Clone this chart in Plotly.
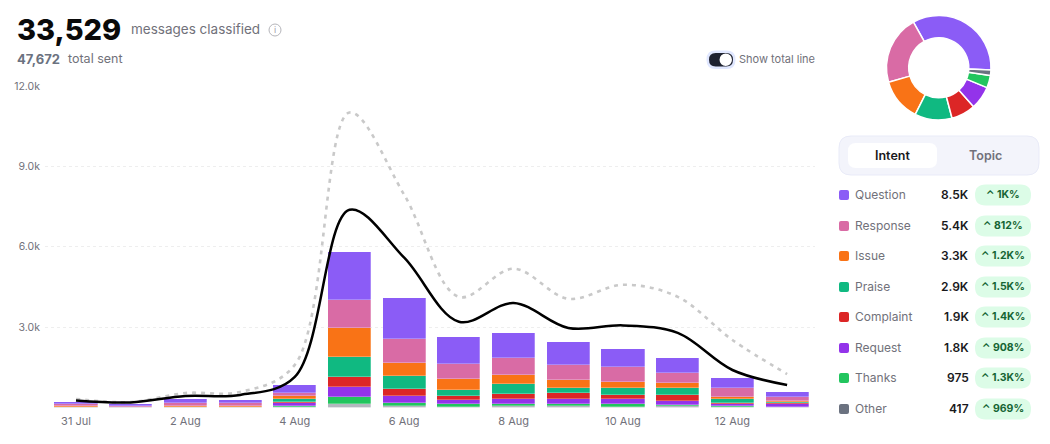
import plotly.graph_objects as go

W, H = 1050, 444

days = ["2023-07-31", "2023-08-01", "2023-08-02", "2023-08-03", "2023-08-04", "2023-08-05", "2023-08-06",
        "2023-08-07", "2023-08-08", "2023-08-09", "2023-08-10", "2023-08-11", "2023-08-12", "2023-08-13"]

question = [75, 50, 150, 135, 288, 1790, 1550, 1000, 920, 850, 673, 560, 374, 187]
response = [80, 50, 105, 110, 125, 1050, 880, 570, 625, 560, 550, 374, 348, 138]
issue = [15, 7, 25, 25, 125, 1080, 500, 400, 335, 285, 213, 187, 75, 50]
praise = [10, 5, 12, 12, 100, 750, 470, 235, 375, 185, 285, 273, 127, 37]
complaint = [5, 3, 6, 6, 50, 390, 275, 150, 210, 235, 150, 224, 37, 52]
request = [5, 3, 5, 5, 100, 370, 245, 140, 175, 187, 175, 127, 86, 86]
thanks = [3, 1, 3, 3, 30, 250, 135, 110, 85, 85, 100, 60, 26, 15]
other = [2, 1, 1, 1, 25, 130, 50, 30, 45, 45, 30, 45, 30, 15]

classified_line = [260, 190, 430, 470, 1140, 7380, 5590, 3200, 3900, 2970, 3065, 2785, 1400, 840]
total_line = [320, 205, 540, 580, 1590, 11010, 7940, 4130, 5180, 4060, 4580, 4130, 2520, 1250]

names = ["Question", "Response", "Issue", "Praise", "Complaint", "Request", "Thanks", "Other"]
colors = ["#8b5cf6", "#d96ba5", "#f97316", "#10b981", "#dc2626", "#9333ea", "#22c55e", "#6b7280"]
series = [question, response, issue, praise, complaint, request, thanks, other]

totals = [8500, 5400, 3300, 2900, 1900, 1800, 975, 417]
total_labels = ["8.5K", "5.4K", "3.3K", "2.9K", "1.9K", "1.8K", "975", "417"]
changes = ["1K%", "812%", "1.2K%", "1.5K%", "1.4K%", "908%", "1.3K%", "969%"]

y_ticks = [0, 3000, 6000, 9000, 12000]
y_labels = ["", "3.0k", "6.0k", "9.0k", "12.0k"]

FONT = "Inter"
GRAY = "#71717a"
GRID = "#eeeeee"


def px(x):
    return x / W


def py(y):
    return 1 - y / H


def rrect(x0, y0, x1, y1, r, fill, line=None, lw=0):
    # rounded rectangle in page pixels
    rx, ry = r / W, r / H
    a, b, c, d = px(x0), py(y1), px(x1), py(y0)
    path = (f"M{a+rx},{b} L{c-rx},{b} Q{c},{b} {c},{b+ry} L{c},{d-ry} Q{c},{d} {c-rx},{d} "
            f"L{a+rx},{d} Q{a},{d} {a},{d-ry} L{a},{b+ry} Q{a},{b} {a+rx},{b} Z")
    return dict(type="path", xref="paper", yref="paper", path=path, fillcolor=fill,
                line=dict(color=line or fill, width=lw), layer="above")


def label(x, y, text, size=12, color=GRAY, anchor="left", weight=400):
    return dict(xref="paper", yref="paper", x=px(x), y=py(y), text=text, showarrow=False,
                xanchor=anchor, yanchor="middle", align=anchor, borderpad=0,
                font=dict(family=FONT, size=size, color=color, weight=weight))


fig = go.Figure()

# stacked bars, bottom segment first
for name, color, values in reversed(list(zip(names, colors, series))):
    fig.add_trace(go.Bar(
        x=days, y=values, name=name, width=68000000,
        marker=dict(color=color, line=dict(color="rgba(255,255,255,0.45)", width=0.6)),
        opacity=0.5 if name == "Other" else 1,
        showlegend=False, hoverinfo="skip"
    ))

fig.add_trace(go.Scatter(
    x=days, y=total_line, mode="lines", showlegend=False, hoverinfo="skip",
    line=dict(color="#c9c9c9", width=2.6, dash="4px,5px", shape="spline", smoothing=1.0)
))
fig.add_trace(go.Scatter(
    x=days, y=classified_line, mode="lines", showlegend=False, hoverinfo="skip",
    line=dict(color="#000000", width=2.5, shape="spline", smoothing=1.0)
))

fig.add_trace(go.Pie(
    labels=names, values=totals, hole=0.575, sort=False, direction="counterclockwise", rotation=-29,
    marker=dict(colors=colors, line=dict(color="#ffffff", width=1.5)),
    textinfo="none", showlegend=False, hoverinfo="skip",
    domain=dict(x=[px(886.5), px(991)], y=[py(120), py(15.5)])
))

shapes = [
    # toggle
    rrect(706.5, 50.5, 735.5, 69, 9, "#e0e7ff"),
    rrect(709, 53, 733, 66.5, 6.7, "#1e2230"),
    dict(type="circle", xref="paper", yref="paper", x0=px(719.5), x1=px(732), y0=py(66), y1=py(53.5),
         fillcolor="#ffffff", line=dict(width=0), layer="above"),
    # info icon
    dict(type="circle", xref="paper", yref="paper", x0=px(269), x1=px(281), y0=py(36), y1=py(24),
         fillcolor="#ffffff", line=dict(color="#b5b5ba", width=1), layer="above"),
    # tabs
    rrect(839, 136, 1039, 175, 12, "#f3f4fb", "#e9ebf8", 1),
    rrect(848, 143, 937, 168, 8, "#ffffff"),
]

annotations = [
    label(16, 29, "33,529", size=29, color="#0a0a0a", weight=800),
    label(130, 29, "messages classified", size=13.5),
    label(275, 30, "i", size=9, color="#a1a1aa", anchor="center"),
    label(16, 59, "47,672", size=13, color="#6b7280", weight=700),
    label(67, 59, "total sent", size=12.5),
    label(738, 59, "Show total line", size=11),
    label(892, 155.5, "Intent", size=12.5, color="#18181b", anchor="center", weight=600),
    label(985, 155.5, "Topic", size=12.5, color="#71717a", anchor="center", weight=600),
]

row_y = [195, 226, 256, 287, 317, 348, 378, 409]
for y, name, color, total, change in zip(row_y, names, colors, total_labels, changes):
    shapes.append(rrect(839, y - 5, 849, y + 5, 2, color))
    shapes.append(rrect(975, y - 10.5, 1031, y + 10.5, 10.5, "#dcfce7"))
    annotations.append(label(853.5, y - 0.5, name, size=12))
    annotations.append(label(969.5, y - 0.5, total, size=12, color="#18181b", anchor="right", weight=600))
    annotations.append(label(1003, y - 0.5, "⌃ " + change, size=10.5, color="#166534", anchor="center", weight=700))

fig.update_layout(
    width=W, height=H, margin=dict(l=0, r=0, t=0, b=0),
    paper_bgcolor="#ffffff", plot_bgcolor="#ffffff",
    barmode="stack", bargap=0, showlegend=False,
    font=dict(family=FONT, size=11, color=GRAY),
    shapes=shapes, annotations=annotations,
    xaxis=dict(
        domain=[px(45), px(815)], type="date",
        range=["2023-07-30 10:24", "2023-08-13 12:14"],
        tick0="2023-07-31", dtick=172800000, tickformat="%-d %b",
        showgrid=False, zeroline=False, showline=False, ticks="",
        tickfont=dict(size=11, color=GRAY), automargin=False, ticklabelstandoff=5
    ),
    yaxis=dict(
        domain=[py(407.5), py(86)], range=[0, 12000],
        tickvals=y_ticks, ticktext=y_labels,
        gridcolor=GRID, griddash="3px,3px", gridwidth=1,
        zeroline=False, showline=False, ticks="",
        tickfont=dict(size=10.5, color=GRAY), automargin=False, ticklabelstandoff=4
    ),
)

fig.write_html("out.html", config=dict(displayModeBar=False),
               post_script="document.body.style.margin='0';document.body.style.overflow='hidden';")
